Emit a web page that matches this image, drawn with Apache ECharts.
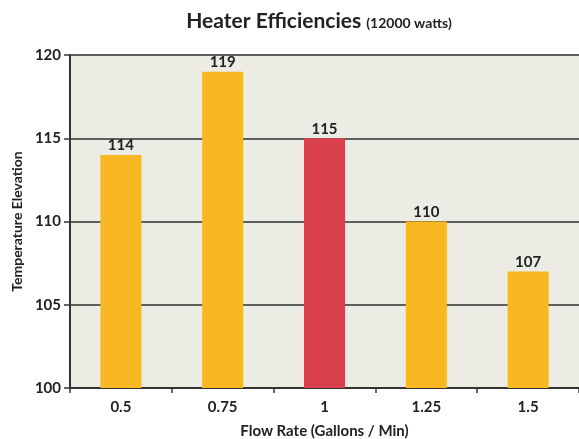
<!DOCTYPE html>
<html><head><meta charset="utf-8">
<script src="https://cdn.jsdelivr.net/npm/echarts@6/dist/echarts.min.js"></script>
<style>html,body{margin:0;padding:0;background:#fff}#c{width:579px;height:439px}</style>
</head><body><div id="c"></div>
<script>
const categories = ['0.5', '0.75', '1', '1.25', '1.5'];
const values = [114, 119, 115, 110, 107];
const barColors = ['#F8B823', '#F8B823', '#D9414C', '#F8B823', '#F8B823'];
const yTicks = [100, 105, 110, 115, 120];

const chart = echarts.init(document.getElementById('c'));
const F = 'Lato';
chart.setOption({
  backgroundColor: '#ffffff',
  animation: false,
  title: {
    text: '{a|Heater Efficiencies} {b|(12000 watts)}',
    left: 314, textAlign: 'center', top: 6,
    textStyle: { rich: {
      a: { fontFamily: F, fontWeight: 'bold', fontSize: 21, color: '#222' },
      b: { fontFamily: F, fontWeight: 'bold', fontSize: 14, color: '#222', padding: [4, 0, 0, 0] }
    } }
  },
  grid: { left: 70, right: 0, top: 55, bottom: 51, show: true, backgroundColor: '#ECEBE4', borderWidth: 0,
          containLabel: false, outerBoundsMode: 'none' },
  xAxis: {
    type: 'category', data: categories,
    name: 'Flow Rate (Gallons / Min)', nameLocation: 'middle', nameGap: 36,
    nameTextStyle: { fontFamily: F, fontWeight: 'bold', fontSize: 15, color: '#222' },
    axisLine: { lineStyle: { color: '#333', width: 2 } },
    axisTick: { show: true, length: 5, lineStyle: { color: '#333', width: 1.5 } },
    axisLabel: { fontFamily: F, fontWeight: 'bold', fontSize: 15, color: '#222', margin: 12 }
  },
  yAxis: {
    type: 'value', min: 100, max: 120, interval: 5,
    name: 'Temperature Elevation', nameLocation: 'middle', nameGap: 45,
    nameTextStyle: { fontFamily: F, fontWeight: 'bold', fontSize: 14, color: '#222' },
    axisLine: { show: true, lineStyle: { color: '#333', width: 2 } },
    axisTick: { show: true, length: 6, lineStyle: { color: '#333', width: 1.5 } },
    axisLabel: { fontFamily: F, fontWeight: 'bold', fontSize: 15, color: '#222', margin: 9,
      formatter: v => yTicks.includes(v) ? String(v) : '' },
    splitLine: { show: true, lineStyle: { color: '#5a605e', width: 2 } }
  },
  series: [{
    type: 'bar', barWidth: 41,
    data: values.map((v, i) => ({ value: v, itemStyle: { color: barColors[i] } })),
    label: { show: true, position: 'top', distance: 2, fontFamily: F, fontWeight: 'bold', fontSize: 15, color: '#222' }
  }]
});
</script></body></html>
